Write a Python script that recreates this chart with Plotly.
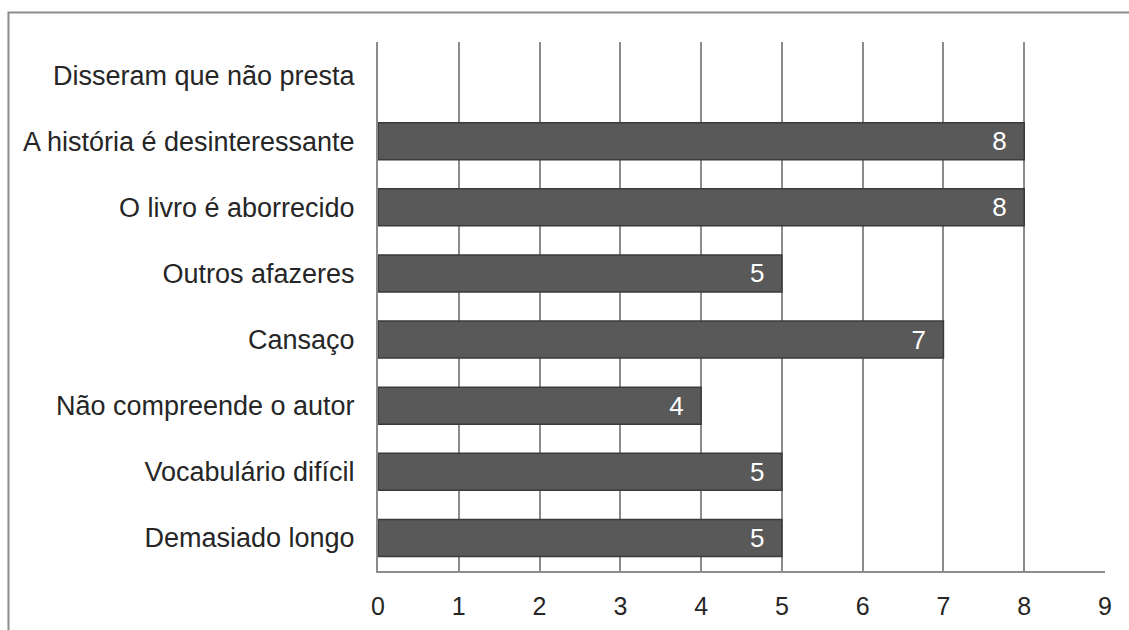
import plotly.graph_objects as go

categories = [
    "Demasiado longo",
    "Vocabulário difícil",
    "Não compreende o autor",
    "Cansaço",
    "Outros afazeres",
    "O livro é aborrecido",
    "A história é desinteressante",
    "Disseram que não presta",
]
values = [5, 5, 4, 7, 5, 8, 8, 0]
x_ticks = list(range(0, 10))

FONT = "Liberation Sans, Arial, sans-serif"
GRID = "#8c8c8c"
PAD = "\u00a0\u00a0"

labels = [f"{v}{PAD}" if v > 0 else "" for v in values]
edge_widths = [1.5 if v > 0 else 0 for v in values]

fig = go.Figure(
    go.Bar(
        y=categories,
        x=values,
        orientation="h",
        text=labels,
        textposition="inside",
        insidetextanchor="end",
        textfont=dict(family=FONT, size=26, color="white"),
        marker=dict(color="#595959", line=dict(color="#3a3a3a", width=edge_widths)),
        cliponaxis=False,
    )
)

fig.update_layout(
    width=1129,
    height=630,
    margin=dict(l=378, r=24, t=42, b=59, autoexpand=False),
    plot_bgcolor="white",
    paper_bgcolor="white",
    bargap=0.44,
    showlegend=False,
    uniformtext=dict(mode=False),
    font=dict(family=FONT, size=26, color="#262626"),
    xaxis=dict(
        range=[0, 9],
        tickvals=x_ticks,
        showgrid=True,
        gridcolor=GRID,
        gridwidth=2,
        zeroline=False,
        showline=True,
        linecolor=GRID,
        linewidth=2,
        ticks="",
        automargin=False,
        ticklabelstandoff=12,
        tickfont=dict(family=FONT, size=25, color="#262626"),
    ),
    yaxis=dict(
        categoryorder="array",
        categoryarray=categories,
        showgrid=False,
        zeroline=False,
        showline=True,
        linecolor=GRID,
        linewidth=2,
        ticks="",
        automargin=False,
        ticklabelstandoff=16,
        tickfont=dict(family=FONT, size=27, color="#262626"),
    ),
    shapes=[
        # outer chart frame
        dict(
            type="rect",
            xref="paper",
            yref="paper",
            x0=-0.5083,
            x1=1.1,
            y0=-0.2,
            y1=1.0558,
            line=dict(color="#8c8c8c", width=2),
            fillcolor="rgba(0,0,0,0)",
            layer="below",
        )
    ],
)

fig.write_html("out.html")
